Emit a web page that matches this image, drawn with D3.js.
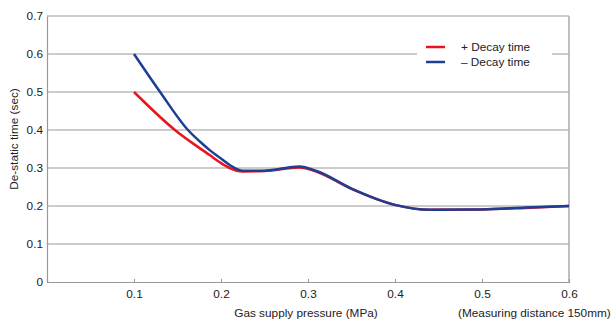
<!DOCTYPE html>
<html>
<head>
<meta charset="utf-8">
<script src="https://cdn.jsdelivr.net/npm/d3@7"></script>
<style>
  body { margin: 0; background: #fff; }
  svg { display: block; font-family: "Liberation Sans", Arial, sans-serif; }
  .grid line { stroke: #9a9a9a; stroke-width: 1.2px; }
</style>
</head>
<body>
<div id="chart"></div>
<script>
// pressure (MPa) / de-static time (sec)
const plusPressure  = [0.1, 0.147, 0.187, 0.2, 0.21, 0.225, 0.25, 0.29, 0.31, 0.35, 0.4, 0.44, 0.5, 0.55, 0.6];
const plusDecay     = [0.5, 0.4, 0.334, 0.313, 0.3, 0.291, 0.292, 0.301, 0.29, 0.245, 0.203, 0.19, 0.191, 0.195, 0.2];
const minusPressure = [0.1, 0.13, 0.162, 0.176, 0.187, 0.2, 0.21, 0.225, 0.25, 0.29, 0.31, 0.35, 0.4, 0.44, 0.5, 0.55, 0.6];
const minusDecay    = [0.6, 0.5, 0.4, 0.369, 0.347, 0.325, 0.308, 0.293, 0.293, 0.304, 0.292, 0.246, 0.203, 0.19, 0.191, 0.196, 0.2];
const xTicks = [0.1, 0.2, 0.3, 0.4, 0.5, 0.6];
const yTicks = [0, 0.1, 0.2, 0.3, 0.4, 0.5, 0.6, 0.7];
const seriesNames = ["+ Decay time", "\u2013 Decay time"];
const seriesColors = ["#e8141e", "#1c3f94"];

const width = 611, height = 320;
const plot = {left: 47, right: 569, top: 16, bottom: 282};
const fontSize = 11.8;

const svg = d3.select("#chart").append("svg")
  .attr("width", width)
  .attr("height", height);

const x = d3.scaleLinear().domain([0, 0.6]).range([plot.left, plot.right]);
const y = d3.scaleLinear().domain([0, 0.7]).range([plot.bottom, plot.top]);

// horizontal grid
svg.append("g")
  .attr("class", "grid")
  .selectAll("line")
  .data(yTicks.filter(d => d > 0))
  .join("line")
    .attr("x1", plot.left).attr("x2", plot.right)
    .attr("y1", d => y(d)).attr("y2", d => y(d));

// right border
svg.append("line")
  .attr("x1", plot.right).attr("x2", plot.right)
  .attr("y1", plot.top).attr("y2", plot.bottom)
  .attr("stroke", "#aaa").attr("stroke-width", 1.5);

// y axis
const yAxis = svg.append("g")
  .attr("transform", `translate(${plot.left},0)`)
  .call(d3.axisLeft(y).tickValues(yTicks).tickSize(0).tickPadding(4)
    .tickFormat(d => d === 0 ? "0" : d3.format(".1f")(d)));
yAxis.select(".domain").attr("stroke", "#999").attr("stroke-width", 1.2);
yAxis.selectAll("text").attr("font-size", fontSize).attr("fill", "#222")
  .attr("font-family", "Liberation Sans, Arial, sans-serif");

// x axis
const xAxis = svg.append("g")
  .attr("transform", `translate(0,${plot.bottom})`)
  .call(d3.axisBottom(x).tickValues(xTicks).tickSize(-3).tickPadding(8)
    .tickFormat(d3.format(".1f")));
xAxis.select(".domain").attr("stroke", "#999").attr("stroke-width", 1.2);
xAxis.selectAll(".tick line").attr("stroke", "#999");
xAxis.selectAll("text").attr("font-size", fontSize).attr("fill", "#222")
  .attr("font-family", "Liberation Sans, Arial, sans-serif");

// axis titles
svg.append("text")
  .attr("transform", "translate(18,139) rotate(-90)")
  .attr("text-anchor", "middle")
  .attr("font-size", fontSize)
  .attr("fill", "#222")
  .text("De-static time (sec)");

svg.append("text")
  .attr("x", 306).attr("y", 317)
  .attr("text-anchor", "middle")
  .attr("font-size", fontSize)
  .attr("fill", "#222")
  .text("Gas supply pressure (MPa)");

svg.append("text")
  .attr("x", 458).attr("y", 317)
  .attr("font-size", fontSize)
  .attr("fill", "#222")
  .text("(Measuring distance 150mm)");

// lines
const line = d3.line()
  .x(d => x(d[0]))
  .y(d => y(d[1]))
  .curve(d3.curveMonotoneX);

const series = [
  d3.zip(plusPressure, plusDecay),
  d3.zip(minusPressure, minusDecay)
];

svg.append("g")
  .selectAll("path")
  .data(series)
  .join("path")
    .attr("d", line)
    .attr("fill", "none")
    .attr("stroke", (d, i) => seriesColors[i])
    .attr("stroke-width", 2.5)
    .attr("stroke-linejoin", "round");

// legend
svg.append("rect")
  .attr("x", 417).attr("y", 34)
  .attr("width", 135).attr("height", 40)
  .attr("fill", "#fff");

const legend = svg.append("g")
  .selectAll("g")
  .data(seriesNames)
  .join("g")
    .attr("transform", (d, i) => `translate(426,${47 + i * 15})`);

legend.append("line")
  .attr("x1", 0).attr("x2", 19)
  .attr("stroke", (d, i) => seriesColors[i])
  .attr("stroke-width", 2.5);

legend.append("text")
  .attr("x", 35).attr("y", 4)
  .attr("font-size", fontSize)
  .attr("fill", "#222")
  .text(d => d);
</script>
</body>
</html>
